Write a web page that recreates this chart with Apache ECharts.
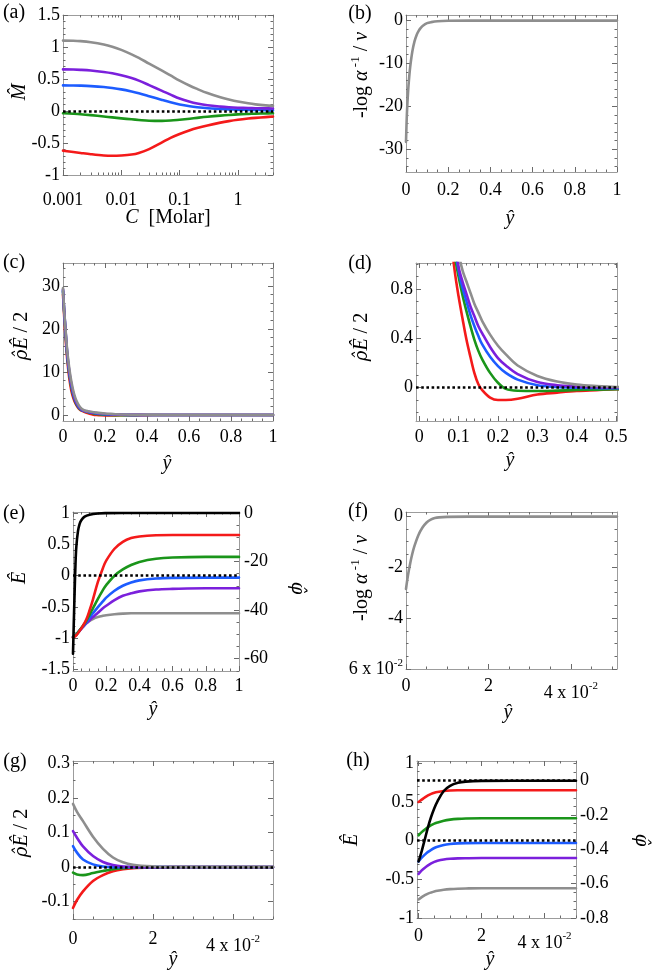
<!DOCTYPE html>
<html><head><meta charset="utf-8">
<script src="https://cdn.jsdelivr.net/npm/echarts@6/dist/echarts.min.js"></script>
<style>html,body{margin:0;padding:0;background:#fff}#c{width:655px;height:979px}</style>
</head><body><div id="c"></div>
<script>
// ---------------- DATA ----------------
// (a) M-hat vs concentration C [Molar]
const C_molar  = [0.001, 0.0015, 0.002, 0.003, 0.005, 0.007, 0.01, 0.015, 0.02, 0.03, 0.05, 0.07, 0.1, 0.15, 0.2, 0.3, 0.5, 0.7, 1, 1.5, 2, 3, 4];
const M_gray   = [1.100, 1.098, 1.092, 1.075, 1.04, 1.005, 0.955, 0.885, 0.83, 0.74, 0.63, 0.555, 0.475, 0.395, 0.345, 0.28, 0.215, 0.18, 0.148, 0.12, 0.104, 0.088, 0.08];
const M_purple = [0.650, 0.648, 0.643, 0.632, 0.61, 0.59, 0.56, 0.515, 0.475, 0.405, 0.315, 0.255, 0.195, 0.145, 0.118, 0.09, 0.068, 0.058, 0.051, 0.046, 0.043, 0.041, 0.04];
const M_blue   = [0.400, 0.399, 0.396, 0.389, 0.375, 0.36, 0.338, 0.305, 0.278, 0.232, 0.172, 0.135, 0.102, 0.074, 0.059, 0.043, 0.031, 0.025, 0.021, 0.018, 0.016, 0.014, 0.013];
const M_green  = [-0.035, -0.043, -0.05, -0.064, -0.085, -0.10, -0.115, -0.13, -0.14, -0.152, -0.155, -0.149, -0.136, -0.12, -0.107, -0.09, -0.072, -0.062, -0.053, -0.046, -0.042, -0.038, -0.036];
const M_red    = [-0.62, -0.64, -0.655, -0.675, -0.695, -0.70, -0.695, -0.68, -0.655, -0.595, -0.49, -0.42, -0.36, -0.30, -0.265, -0.225, -0.182, -0.158, -0.137, -0.118, -0.107, -0.095, -0.087];

// (b) -log alpha^-1 / nu vs y-hat
const b_y   = [0, 0.002, 0.005, 0.01, 0.015, 0.02, 0.03, 0.04, 0.05, 0.06, 0.07, 0.08, 0.1, 0.12, 0.15, 0.2, 0.3, 0.5, 0.7, 1.0];
const b_val = [-28.3, -25.0, -21.0, -16.5, -13.3, -10.8, -7.3, -5.0, -3.5, -2.5, -1.8, -1.3, -0.7, -0.45, -0.25, -0.15, -0.1, -0.1, -0.1, -0.1];

// (c),(d) rho-hat E-hat / 2 vs y-hat
const rho_y      = [0, 0.005, 0.01, 0.02, 0.03, 0.04, 0.05, 0.06, 0.07, 0.08, 0.09, 0.1, 0.11, 0.12, 0.13, 0.14, 0.15, 0.16, 0.18, 0.2, 0.22, 0.25, 0.3, 0.35, 0.4, 0.45, 0.5, 0.6, 0.8, 1.0];
const rho_red    = [28.0, 23.5, 19.5, 13.0, 8.5, 5.6, 3.8, 2.6, 1.8, 1.25, 0.95, 0.74, 0.56, 0.39, 0.25, 0.12, 0.03, -0.02, -0.08, -0.10, -0.10, -0.09, -0.055, -0.04, -0.027, -0.02, -0.013, -0.006, -0.002, 0];
const rho_green  = [28.7, 24.3, 20.7, 13.8, 9.4, 6.4, 4.3, 2.9, 2.0, 1.4, 1.08, 0.90, 0.75, 0.62, 0.50, 0.39, 0.30, 0.23, 0.12, 0.04, -0.01, -0.025, -0.027, -0.024, -0.019, -0.016, -0.013, -0.007, -0.002, 0];
const rho_blue   = [29.0, 24.6, 21.0, 14.2, 9.8, 6.8, 4.6, 3.1, 2.2, 1.55, 1.15, 0.95, 0.81, 0.70, 0.59, 0.50, 0.42, 0.35, 0.25, 0.175, 0.12, 0.065, 0.02, 0.006, 0, -0.003, -0.005, -0.004, -0.001, 0];
const rho_purple = [29.2, 24.8, 21.1, 14.5, 10.2, 7.1, 4.9, 3.3, 2.35, 1.7, 1.25, 0.98, 0.86, 0.76, 0.66, 0.58, 0.50, 0.44, 0.33, 0.24, 0.18, 0.11, 0.045, 0.02, 0.01, 0.004, 0.001, 0, 0, 0];
const rho_gray   = [29.5, 25.0, 21.3, 15.0, 10.8, 7.7, 5.4, 3.8, 2.7, 1.9, 1.4, 1.10, 0.95, 0.86, 0.77, 0.68, 0.61, 0.54, 0.43, 0.34, 0.27, 0.18, 0.095, 0.05, 0.025, 0.013, 0.006, 0.002, 0, 0];

// (e) E-hat (left) and phi-hat (right, black) vs y-hat
const e_y_black = [0, 0.003, 0.006, 0.01, 0.015, 0.02, 0.03, 0.04, 0.05, 0.07, 0.1, 0.15, 0.2, 0.3, 0.5, 1.0];
const e_black   = [-58, -50, -42, -32, -21, -14, -7.5, -4.5, -3.0, -1.5, -0.7, -0.2, -0.06, 0, 0, 0];
const e_y      = [0, 0.02, 0.04, 0.06, 0.08, 0.1, 0.12, 0.15, 0.18, 0.2, 0.25, 0.3, 0.35, 0.4, 0.5, 0.6, 0.8, 1.0];
const e_red    = [-0.99, -0.95, -0.88, -0.80, -0.70, -0.55, -0.38, -0.10, 0.12, 0.24, 0.43, 0.54, 0.60, 0.625, 0.645, 0.65, 0.65, 0.65];
const e_green  = [-0.98, -0.94, -0.87, -0.80, -0.72, -0.62, -0.52, -0.37, -0.23, -0.15, 0.0, 0.10, 0.17, 0.22, 0.27, 0.29, 0.30, 0.30];
const e_blue   = [-0.98, -0.94, -0.87, -0.81, -0.74, -0.67, -0.60, -0.50, -0.41, -0.35, -0.24, -0.16, -0.11, -0.075, -0.045, -0.035, -0.03, -0.03];
const e_purple = [-0.98, -0.94, -0.88, -0.82, -0.76, -0.71, -0.66, -0.59, -0.52, -0.48, -0.39, -0.32, -0.28, -0.25, -0.22, -0.21, -0.20, -0.20];
const e_gray   = [-0.98, -0.93, -0.87, -0.81, -0.76, -0.72, -0.69, -0.66, -0.64, -0.63, -0.615, -0.605, -0.60, -0.60, -0.60, -0.60, -0.60, -0.60];

// (f) -log alpha^-1 / nu vs y-hat (x 10^-2)
const f_y   = [0, 0.05, 0.1, 0.15, 0.2, 0.3, 0.4, 0.5, 0.6, 0.7, 0.8, 1.0, 1.5, 2, 3, 4, 5.12];
const f_val = [-2.86, -2.3, -1.87, -1.5, -1.2, -0.75, -0.45, -0.25, -0.14, -0.08, -0.05, -0.03, -0.02, -0.02, -0.02, -0.02, -0.02];

// (g) rho-hat E-hat / 2 vs y-hat (x 10^-2)
const g_y      = [0, 0.1, 0.25, 0.5, 0.75, 1, 1.25, 1.5, 2, 2.5, 3, 4, 5];
const g_gray   = [0.183, 0.160, 0.133, 0.088, 0.053, 0.028, 0.014, 0.007, 0.002, 0, 0, 0, 0];
const g_purple = [0.104, 0.085, 0.060, 0.032, 0.015, 0.006, 0.002, 0.001, 0, 0, 0, 0, 0];
const g_blue   = [0.061, 0.042, 0.022, 0.008, 0.002, 0, 0, 0, 0, 0, 0, 0, 0];
const g_green  = [-0.016, -0.021, -0.023, -0.017, -0.011, -0.006, -0.003, -0.001, 0, 0, 0, 0, 0];
const g_red    = [-0.118, -0.095, -0.070, -0.040, -0.023, -0.012, -0.006, -0.003, -0.001, 0, 0, 0, 0];

// (h) E-hat (left) and phi-hat (right, black) vs y-hat (x 10^-2)
const h_y      = [0, 0.1, 0.2, 0.3, 0.4, 0.5, 0.6, 0.8, 1.0, 1.25, 1.5, 2, 3, 4, 5];
const h_red    = [0.50, 0.53, 0.56, 0.585, 0.605, 0.62, 0.63, 0.642, 0.648, 0.651, 0.652, 0.652, 0.652, 0.652, 0.652];
const h_green  = [0.07, 0.11, 0.145, 0.175, 0.20, 0.22, 0.235, 0.258, 0.272, 0.282, 0.287, 0.29, 0.29, 0.29, 0.29];
const h_blue   = [-0.27, -0.22, -0.18, -0.145, -0.118, -0.095, -0.078, -0.055, -0.043, -0.035, -0.032, -0.03, -0.03, -0.03, -0.03];
const h_purple = [-0.43, -0.385, -0.35, -0.32, -0.295, -0.275, -0.26, -0.243, -0.234, -0.229, -0.227, -0.225, -0.225, -0.225, -0.225];
const h_gray   = [-0.76, -0.73, -0.705, -0.685, -0.67, -0.657, -0.648, -0.635, -0.627, -0.621, -0.618, -0.615, -0.615, -0.615, -0.615];
const h_black  = [-0.47, -0.41, -0.34, -0.27, -0.21, -0.16, -0.12, -0.06, -0.03, -0.012, -0.005, -0.001, 0, 0, 0];

const zeroLevel = 0;

// tick label lists
const aXTicks  = [0.001, 0.01, 0.1, 1];
const aYTicks  = [-1, -0.5, 0, 0.5, 1, 1.5];
const unitTicks = [0, 0.2, 0.4, 0.6, 0.8, 1];
const bYTicks  = [-30, -20, -10, 0];
const cYTicks  = [0, 10, 20, 30];
const dXTicks  = [0, 0.1, 0.2, 0.3, 0.4, 0.5];
const dYTicks  = [0, 0.4, 0.8];
const eYTicks  = [-1.5, -1, -0.5, 0, 0.5, 1];
const eY2Ticks = [-60, -40, -20, 0];
const smallXTicks = [0, 2, 4];
const fYTicks  = [-6, -4, -2, 0];
const gYTicks  = [-0.1, 0, 0.1, 0.2, 0.3];
const hYTicks  = [-1, -0.5, 0, 0.5, 1];
const hY2Ticks = [-0.8, -0.6, -0.4, -0.2, 0];

// ---------------- STYLE / LAYOUT ----------------
const FONT = 'Liberation Serif';
const GFONT = 'DejaVu Serif';
const FRAME = '#9c9c9c', TICK = '#6a6a6a';
const COL = {red:'#f41a1a', green:'#1a951a', blue:'#1d5cff', purple:'#7b20dc', gray:'#8e8e8e', black:'#000000'};
const TICKFS = 18;

const layout = [
  {left:63,  top:15,  width:210, height:160},
  {left:406, top:15,  width:211, height:157},
  {left:63,  top:263, width:210, height:158},
  {left:416, top:263, width:201, height:158},
  {left:73,  top:512, width:166, height:159},
  {left:406, top:512, width:211, height:157},
  {left:73,  top:761, width:200, height:158},
  {left:417, top:761, width:159, height:157}
];

function minorList(min, max, step, majors) {
  const out = [];
  const s = Math.ceil(min / step - 1e-9), e = Math.floor(max / step + 1e-9);
  for (let k = s; k <= e; k++) {
    const v = +(k * step).toFixed(10);
    if (!majors.some(m => Math.abs(m - v) < step * 1e-3)) out.push(v);
  }
  return out;
}
function logMinors(min, max) {
  const out = [];
  for (let e = -4; e <= 2; e++) for (let m = 2; m <= 9; m++) {
    const v = +(m * Math.pow(10, e)).toPrecision(6);
    if (v >= min && v <= max) out.push(v);
  }
  return out;
}
function fmtNum(v) { return String(+(+v).toFixed(6)); }
const FMT = {
  plain: v => fmtNum(v),
  x4: v => Math.abs(v - 4) < 1e-9 ? '{m|4 x 10}{s|-2}' : fmtNum(v),
  y6: v => Math.abs(v + 6) < 1e-9 ? '{m|6 x 10}{s|-2}' : fmtNum(v)
};
const RICH_X = {
  m: {fontFamily: FONT, fontSize: TICKFS, lineHeight: 32, color: '#000'},
  s: {fontFamily: FONT, fontSize: 11, lineHeight: 11, verticalAlign: 'top', padding: [4, 0, 0, 0], color: '#000'}
};
const RICH_Y = {
  m: {fontFamily: FONT, fontSize: TICKFS, lineHeight: 22, color: '#000'},
  s: {fontFamily: FONT, fontSize: 11, lineHeight: 11, verticalAlign: 'top', color: '#000'}
};

const panels = [
  {x:{type:'log', min:0.001, max:4, ticks:aXTicks, minor:logMinors(0.001, 4), margin:16},
   y:{min:-1, max:1.5, ticks:aYTicks, step:0.1, margin:3}},
  {x:{min:0, max:1, ticks:unitTicks, step:0.05, margin:9},
   y:{min:-35.3, max:1.2, ticks:bYTicks, step:2, margin:3}},
  {x:{min:0, max:1, ticks:unitTicks, step:0.05, margin:7},
   y:{min:-1.4, max:35.3, ticks:cYTicks, step:2, margin:3}},
  {x:{min:-0.008, max:0.502, ticks:dXTicks, step:0.02, margin:7},
   y:{min:-0.27, max:1.01, ticks:dYTicks, step:0.1, margin:3}},
  {x:{min:0, max:1, ticks:unitTicks, step:0.05, margin:6},
   y:{min:-1.52, max:1.016, ticks:eYTicks, step:0.1, margin:3},
   y2:{min:-65.1, max:0.4, ticks:eY2Ticks, step:5, margin:5}},
  {x:{min:0, max:5.12, ticks:smallXTicks, step:0.5, margin:8, fmt:'x4'},
   y:{min:-6, max:0.16, ticks:fYTicks, step:0.5, margin:3, fmt:'y6'}},
  {x:{min:0, max:5, ticks:smallXTicks, step:0.5, margin:11, fmt:'x4'},
   y:{min:-0.15, max:0.307, ticks:gYTicks, step:0.05, margin:3}},
  {x:{min:-0.05, max:5, ticks:smallXTicks, step:0.5, margin:9, fmt:'x4'},
   y:{min:-1, max:1.03, ticks:hYTicks, step:0.1, margin:3},
   y2:{min:-0.8, max:0.115, ticks:hY2Ticks, step:0.05, margin:4}}
];

function axis(gi, pos, spec, kind, withLabels, isX) {
  const minor = kind === 'minor';
  const ticks = minor ? (spec.minor || minorList(spec.min, spec.max, spec.step, spec.ticks)) : spec.ticks;
  const a = {
    gridIndex: gi, type: spec.type || 'value', position: pos, min: spec.min, max: spec.max,
    axisLine: {show: !minor, onZero: false, lineStyle: {color: FRAME, width: 1}},
    axisTick: {show: true, inside: true, length: minor ? 2.5 : 5, customValues: ticks, lineStyle: {color: TICK, width: 1}},
    minorTick: {show: false}, splitLine: {show: false}, splitArea: {show: false},
    axisPointer: {show: false}, silent: true,
    axisLabel: {show: false}
  };
  if (spec.type === 'log') a.logBase = 10;
  if (withLabels && !minor) {
    a.axisLabel = {
      show: true, customValues: spec.ticks, margin: spec.margin,
      fontFamily: FONT, fontSize: TICKFS, color: '#000',
      formatter: FMT[spec.fmt || 'plain'], rich: isX ? RICH_X : RICH_Y,
      showMinLabel: true, showMaxLabel: true, hideOverlap: false
    };
  }
  return a;
}

const grids = [], xAxes = [], yAxes = [];
panels.forEach((p, i) => {
  grids.push(Object.assign({containLabel: false, outerBoundsMode: 'none', show: false}, layout[i]));
  xAxes.push(axis(i, 'bottom', p.x, 'major', true, true));
  xAxes.push(axis(i, 'bottom', p.x, 'minor', false, true));
  xAxes.push(axis(i, 'top', p.x, 'major', false, true));
  xAxes.push(axis(i, 'top', p.x, 'minor', false, true));
  yAxes.push(axis(i, 'left', p.y, 'major', true, false));
  yAxes.push(axis(i, 'left', p.y, 'minor', false, false));
  const r = p.y2 || p.y;
  yAxes.push(axis(i, 'right', r, 'major', !!p.y2, false));
  yAxes.push(axis(i, 'right', r, 'minor', false, false));
});

const series = [];
function addLine(pi, xs, ys, color, right, zero) {
  const s = {
    type: 'line', xAxisIndex: 4 * pi, yAxisIndex: right ? 4 * pi + 2 : 4 * pi,
    data: xs.map((x, i) => [x, ys[i]]),
    symbol: 'none', showSymbol: false, smooth: 0.35,
    lineStyle: {color: color, width: 2.6, join: 'round', cap: 'round'}, itemStyle: {color: color},
    clip: true, silent: true, animation: false, z: 2
  };
  if (zero) {
    s.markLine = {
      silent: true, symbol: ['none', 'none'], label: {show: false}, animation: false,
      lineStyle: {color: '#000', width: 2.6, type: [2.6, 2.6], cap: 'butt'},
      data: [{yAxis: zeroLevel}]
    };
  }
  series.push(s);
}
// (a)
addLine(0, C_molar, M_red, COL.red);
addLine(0, C_molar, M_green, COL.green);
addLine(0, C_molar, M_blue, COL.blue);
addLine(0, C_molar, M_purple, COL.purple);
addLine(0, C_molar, M_gray, COL.gray, false, true);
// (b)
addLine(1, b_y, b_val, COL.gray);
// (c)
[[rho_red, COL.red], [rho_green, COL.green], [rho_blue, COL.blue], [rho_purple, COL.purple], [rho_gray, COL.gray]]
  .forEach(([d, c]) => addLine(2, rho_y, d, c));
// (d)
[[rho_red, COL.red], [rho_green, COL.green], [rho_blue, COL.blue], [rho_purple, COL.purple]]
  .forEach(([d, c]) => addLine(3, rho_y, d, c));
addLine(3, rho_y, rho_gray, COL.gray, false, true);
// (e)
addLine(4, e_y, e_gray, COL.gray, false, true);
addLine(4, e_y, e_purple, COL.purple);
addLine(4, e_y, e_blue, COL.blue);
addLine(4, e_y, e_green, COL.green);
addLine(4, e_y, e_red, COL.red);
addLine(4, e_y_black, e_black, COL.black, true);
// (f)
addLine(5, f_y, f_val, COL.gray);
// (g)
addLine(6, g_y, g_red, COL.red);
addLine(6, g_y, g_green, COL.green);
addLine(6, g_y, g_blue, COL.blue);
addLine(6, g_y, g_purple, COL.purple);
addLine(6, g_y, g_gray, COL.gray, false, true);
// (h)
addLine(7, h_y, h_gray, COL.gray);
addLine(7, h_y, h_purple, COL.purple);
addLine(7, h_y, h_blue, COL.blue, false, true);
addLine(7, h_y, h_green, COL.green);
addLine(7, h_y, h_red, COL.red);
addLine(7, h_y, h_black, COL.black, true, true);

// ---------------- TEXT ----------------
const RICH_NAME = {
  i: {fontFamily: FONT, fontSize: 20, fontStyle: 'italic', fill: '#000'},
  g: {fontFamily: GFONT, fontSize: 18, fontStyle: 'italic', fill: '#000'},
  n: {fontFamily: FONT, fontSize: 20, fill: '#000'},
  s: {fontFamily: FONT, fontSize: 13, lineHeight: 13, verticalAlign: 'top', fill: '#000'}
};
function txt(x, y, text, rot) {
  return {
    type: 'text', x: x, y: y, rotation: rot || 0, silent: true, z: 10,
    style: {text: text, fontFamily: FONT, fontSize: 20, fill: '#000',
      align: 'center', verticalAlign: 'middle', lineHeight: 26, rich: RICH_NAME}
  };
}
const R90 = Math.PI / 2;
const YHAT = '{i|\u0177}';
const LOGA = '{n|-log }{i|\u03b1}{s| -1}{n| / }{i|\u03bd}';
const RHOE = '{g|\u03c1\u0302}{i|\u00ca}{n| / 2}';
const EHAT = '{i|\u00ca}';
const PHIHAT = '{g|\u03c6\u0302}';
const graphics = [
  txt(14, 13, '(a)'), txt(360, 14, '(b)'), txt(14, 263, '(c)'), txt(360, 264, '(d)'),
  txt(14, 514, '(e)'), txt(358, 512, '(f)'), txt(15, 762, '(g)'), txt(358, 761, '(h)'),
  // x names
  txt(168, 218, '{i|C}{n|  [Molar]}'),
  txt(510, 219, YHAT), txt(167, 464, YHAT), txt(510, 461, YHAT), txt(153, 710, YHAT),
  txt(508, 713, YHAT), txt(173, 960, YHAT), txt(490, 960, YHAT),
  // y names
  txt(20, 92, '{i|M\u0302}', R90),
  txt(362, 75, LOGA, R90),
  txt(22, 336, RHOE, R90),
  txt(362, 337, RHOE, R90),
  txt(20, 578, EHAT, R90),
  txt(297, 588, PHIHAT, -R90),
  txt(362, 578, LOGA, R90),
  txt(22, 833, RHOE, R90),
  txt(352, 840, EHAT, R90),
  txt(641, 840, PHIHAT, -R90)
];

const chart = echarts.init(document.getElementById('c'), null, {renderer: 'canvas'});
chart.setOption({
  animation: false, backgroundColor: '#ffffff',
  textStyle: {fontFamily: FONT},
  grid: grids, xAxis: xAxes, yAxis: yAxes, series: series, graphic: graphics
});
</script></body></html>
